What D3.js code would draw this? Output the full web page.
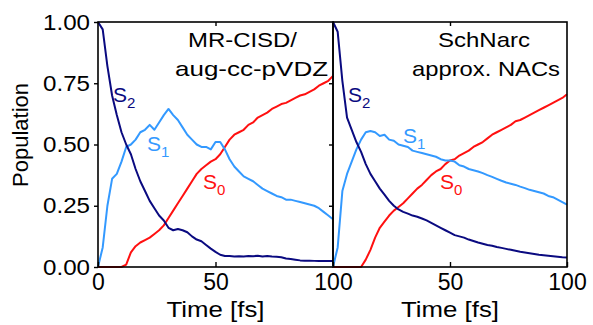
<!DOCTYPE html>
<html>
<head>
<meta charset="utf-8">
<script src="https://cdn.jsdelivr.net/npm/d3@7"></script>
<style>
  html, body { margin: 0; padding: 0; background: #fff; }
  svg { display: block; font-family: "Liberation Sans", Arial, sans-serif; }
</style>
</head>
<body>
<svg id="chart" width="593" height="325"></svg>
<script>
// Time grid (fs)
const time = [0,2,4,6,8,10,12,14,16,18,20,22,24,26,28,30,32,34,36,38,40,42,44,46,48,50,
  52,54,56,58,60,62,64,66,68,70,72,74,76,78,80,82,84,86,88,90,92,94,96,98,100];

// MR-CISD/aug-cc-pVDZ populations
const refS2 = [1.00,0.97,0.82,0.70,0.62,0.55,0.50,0.46,0.40,0.35,0.31,0.27,0.24,0.21,0.19,0.16,0.15,0.155,0.15,0.142,0.125,0.112,0.105,0.09,0.075,0.062,
  0.05,0.045,0.045,0.043,0.044,0.043,0.045,0.044,0.046,0.043,0.045,0.043,0.042,0.040,0.035,0.033,0.030,0.027,0.026,0.026,0.025,0.024,0.024,0.024,0.024];
const refS1 = [0.00,0.08,0.25,0.36,0.38,0.43,0.49,0.50,0.52,0.55,0.56,0.58,0.56,0.59,0.62,0.645,0.62,0.60,0.57,0.54,0.52,0.50,0.49,0.49,0.48,0.51,
  0.51,0.48,0.44,0.41,0.39,0.37,0.36,0.35,0.335,0.32,0.31,0.30,0.29,0.285,0.275,0.275,0.27,0.265,0.26,0.255,0.25,0.24,0.225,0.21,0.195];
const refS0 = [0,0,0,0,0,0,0.01,0.06,0.085,0.10,0.11,0.12,0.135,0.15,0.17,0.20,0.23,0.26,0.29,0.32,0.35,0.38,0.40,0.415,0.43,0.44,
  0.46,0.49,0.52,0.54,0.55,0.56,0.58,0.59,0.61,0.62,0.63,0.645,0.655,0.665,0.67,0.68,0.69,0.70,0.705,0.715,0.725,0.74,0.75,0.76,0.78];

// SchNarc approx. NACs populations
const mlS2 = [1.00,0.96,0.76,0.61,0.56,0.51,0.47,0.42,0.38,0.35,0.32,0.295,0.27,0.25,0.235,0.225,0.218,0.21,0.205,0.198,0.19,0.18,0.17,0.16,0.15,0.14,
  0.13,0.125,0.12,0.112,0.106,0.10,0.095,0.09,0.087,0.082,0.078,0.074,0.07,0.066,0.062,0.059,0.056,0.053,0.05,0.048,0.046,0.044,0.042,0.04,0.039];
const mlS1 = [0.00,0.08,0.31,0.38,0.43,0.48,0.52,0.55,0.555,0.55,0.535,0.54,0.52,0.515,0.50,0.495,0.49,0.475,0.47,0.465,0.46,0.455,0.45,0.44,0.435,0.435,
  0.43,0.415,0.41,0.40,0.395,0.39,0.383,0.375,0.368,0.36,0.352,0.345,0.34,0.335,0.328,0.322,0.315,0.31,0.305,0.30,0.29,0.285,0.275,0.265,0.255];
const mlS0 = [0,0,0,0,0,0,0.0,0.03,0.07,0.12,0.16,0.185,0.21,0.23,0.245,0.26,0.28,0.30,0.32,0.335,0.355,0.375,0.39,0.40,0.42,0.435,
  0.44,0.455,0.465,0.475,0.49,0.50,0.51,0.525,0.54,0.55,0.56,0.57,0.58,0.595,0.60,0.61,0.62,0.63,0.64,0.65,0.66,0.67,0.68,0.69,0.705];

const xTicks = [0, 50, 100];
const yTicks = [0, 0.25, 0.5, 0.75, 1];
const stateColors = { S0: "#ff1010", S1: "#3399ff", S2: "#0a0a80" };

const svg = d3.select("#chart");
const plotTop = 22, plotBottom = 267;
const y = d3.scaleLinear().domain([0, 1]).range([plotBottom, plotTop]);

const panels = [
  { x0: 98, x1: 333, S0: refS0, S1: refS1, S2: refS2,
    title: [{ t: "MR-CISD/", x: 188, y: 47, w: 109 }, { t: "aug-cc-pVDZ", x: 175, y: 76, w: 153 }],
    labels: { S2: [113, 102], S1: [147, 151], S0: [203, 189] },
    yAxis: true, rightTicks: true },
  { x0: 333, x1: 567, S0: mlS0, S1: mlS1, S2: mlS2,
    title: [{ t: "SchNarc", x: 438, y: 47, w: 92 }, { t: "approx. NACs", x: 412, y: 76, w: 148 }],
    labels: { S2: [348, 102], S1: [403, 143], S0: [440, 189] },
    yAxis: false, rightTicks: false }
];

panels.forEach((p, pi) => {
  const x = d3.scaleLinear().domain([0, 100]).range([p.x0, p.x1]);
  const g = svg.append("g");

  // population curves
  const line = d3.line().x((d, i) => x(time[i])).y(d => y(d));
  ["S0", "S1", "S2"].forEach(s => {
    g.append("path").datum(p[s])
      .attr("d", line)
      .attr("fill", "none")
      .attr("stroke", stateColors[s])
      .attr("stroke-width", 2)
      .attr("stroke-linejoin", "round");
  });

  // frame
  g.append("rect")
    .attr("x", p.x0).attr("y", plotTop)
    .attr("width", p.x1 - p.x0).attr("height", plotBottom - plotTop)
    .attr("fill", "none").attr("stroke", "#000").attr("stroke-width", 1.6);

  // bottom axis: inward ticks, labels below
  const xb = g.append("g").attr("transform", `translate(0,${plotBottom})`)
    .call(d3.axisBottom(x).tickValues(xTicks).tickSize(-5).tickPadding(7).tickFormat(d3.format("d")));
  xb.select(".domain").remove();
  xb.selectAll("line").attr("stroke-width", 1.4);
  xb.selectAll("text").attr("font-size", 23).attr("fill", "#000")
    .attr("font-family", "Liberation Sans, Arial, sans-serif");
  if (pi === 1) xb.selectAll("text").filter(d => d === 0).remove();

  // top axis: inward ticks only
  const xt = g.append("g").attr("transform", `translate(0,${plotTop})`)
    .call(d3.axisTop(x).tickValues([50]).tickSize(-4).tickFormat(""));
  xt.select(".domain").remove();
  xt.selectAll("line").attr("stroke-width", 1.4);

  if (p.yAxis) {
    const ya = g.append("g").attr("transform", `translate(${p.x0},0)`)
      .call(d3.axisLeft(y).tickValues(yTicks).tickSize(4).tickPadding(4).tickFormat(d3.format(".2f")));
    ya.select(".domain").remove();
    ya.selectAll("line").attr("stroke-width", 1.4);
    ya.selectAll("text").attr("font-size", 22).attr("fill", "#000")
      .attr("font-family", "Liberation Sans, Arial, sans-serif")
      .attr("textLength", 47).attr("lengthAdjust", "spacingAndGlyphs");
  }
  if (p.rightTicks) {
    const yr = g.append("g").attr("transform", `translate(${p.x1},0)`)
      .call(d3.axisLeft(y).tickValues([0.25, 0.5, 0.75]).tickSize(4).tickFormat(""));
    yr.select(".domain").remove();
    yr.selectAll("line").attr("stroke-width", 1.4);
  }

  // method annotation
  p.title.forEach(tl => {
    g.append("text").attr("x", tl.x).attr("y", tl.y)
      .attr("font-size", 21).attr("fill", "#000")
      .attr("textLength", tl.w).attr("lengthAdjust", "spacingAndGlyphs")
      .text(tl.t);
  });

  // state labels
  ["S2", "S1", "S0"].forEach(s => {
    const [lx, ly] = p.labels[s];
    const t = g.append("text").attr("x", lx).attr("y", ly)
      .attr("fill", stateColors[s]).attr("font-size", 21);
    t.append("tspan").text("S");
    t.append("tspan").attr("dy", 6).attr("font-size", 15).text(s.slice(1));
  });

  // x axis title
  g.append("text")
    .attr("x", (p.x0 + p.x1) / 2).attr("y", 317)
    .attr("text-anchor", "middle").attr("font-size", 22).attr("fill", "#000")
    .attr("textLength", 98).attr("lengthAdjust", "spacingAndGlyphs")
    .text("Time [fs]");
});

// y axis title
svg.append("text")
  .attr("transform", "translate(28,135) rotate(-90)")
  .attr("text-anchor", "middle").attr("font-size", 22).attr("fill", "#000")
  .text("Population");
</script>
</body>
</html>
